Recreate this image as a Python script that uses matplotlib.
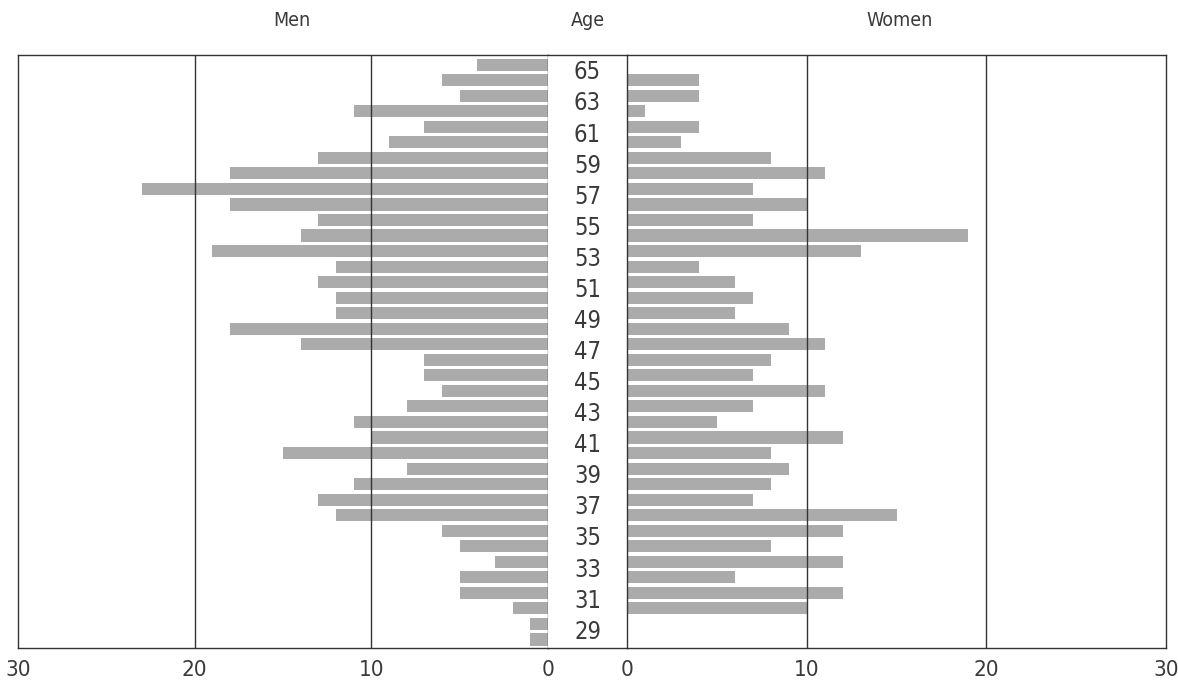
import matplotlib
matplotlib.use("Agg")
import matplotlib.pyplot as plt
import numpy as np

plt.rcParams["font.family"] = ["DejaVu Sans"]
plt.rcParams["font.stretch"] = "condensed"

# one bar per year of age, top (65) to bottom (28)
ages = list(range(65, 27, -1))
men = [4, 6, 5, 11, 7, 9, 13, 18, 23, 18, 13, 14, 19, 12, 13, 12, 12, 18, 14,
       7, 7, 6, 8, 11, 10, 15, 8, 11, 13, 12, 6, 5, 3, 5, 5, 2, 1, 1]
women = [0, 4, 4, 1, 4, 3, 8, 11, 7, 10, 7, 19, 13, 4, 6, 7, 6, 9, 11, 8, 7,
         11, 7, 5, 12, 8, 9, 8, 7, 15, 12, 8, 12, 6, 12, 10, 0, 0]
age_labels = list(range(29, 66, 2))
x_ticks = [0, 10, 20, 30]

bar_color = "#ababab"
line_color = "#333333"
text_color = "#3a3a3a"

fig = plt.figure(figsize=(11.78, 6.89), dpi=100)

W, H = 1178, 689
left_x, mid_x, right_x, end_x = 18, 548, 627, 1166
top_y, bot_y = 55, 648
b = 1 - bot_y / H
h = (bot_y - top_y) / H

ax_m = fig.add_axes([left_x / W, b, (mid_x - left_x) / W, h])
ax_a = fig.add_axes([mid_x / W, b, (right_x - mid_x) / W, h])
ax_w = fig.add_axes([right_x / W, b, (end_x - right_x) / W, h])

y = np.array(ages) + 0.5
ylim = (27.95, 66.12)

for ax, vals in ((ax_m, men), (ax_w, women)):
    ax.barh(y, vals, height=0.78, color=bar_color, zorder=1)
    ax.set_xlim(0, 30)
    ax.set_ylim(*ylim)
    for v in (10, 20):
        ax.axvline(v, color=line_color, lw=1.0, zorder=2)
    ax.set_yticks([])
    ax.set_xticks(x_ticks)
    ax.tick_params(axis="x", length=0, pad=9, labelsize=16, labelcolor=text_color)
    for s in ax.spines.values():
        s.set_color(line_color)
        s.set_linewidth(1.0)

ax_m.invert_xaxis()

ax_a.set_xlim(0, 1)
ax_a.set_ylim(*ylim)
ax_a.set_xticks([])
ax_a.set_yticks([])
ax_a.spines["left"].set_visible(False)
ax_a.spines["right"].set_visible(False)
for s in ("top", "bottom"):
    ax_a.spines[s].set_color(line_color)
    ax_a.spines[s].set_linewidth(1.0)
for a in age_labels:
    ax_a.text(0.5, a, str(a), ha="center", va="center", fontsize=17,
              color=text_color)

fig.text(292 / W, 1 - 20 / H, "Men", ha="center", va="center", fontsize=14,
         color=text_color)
fig.text(588 / W, 1 - 20 / H, "Age", ha="center", va="center", fontsize=14,
         color=text_color)
fig.text(900 / W, 1 - 20 / H, "Women", ha="center", va="center", fontsize=14,
         color=text_color)

fig.savefig("out.png", dpi=100, facecolor="white")
